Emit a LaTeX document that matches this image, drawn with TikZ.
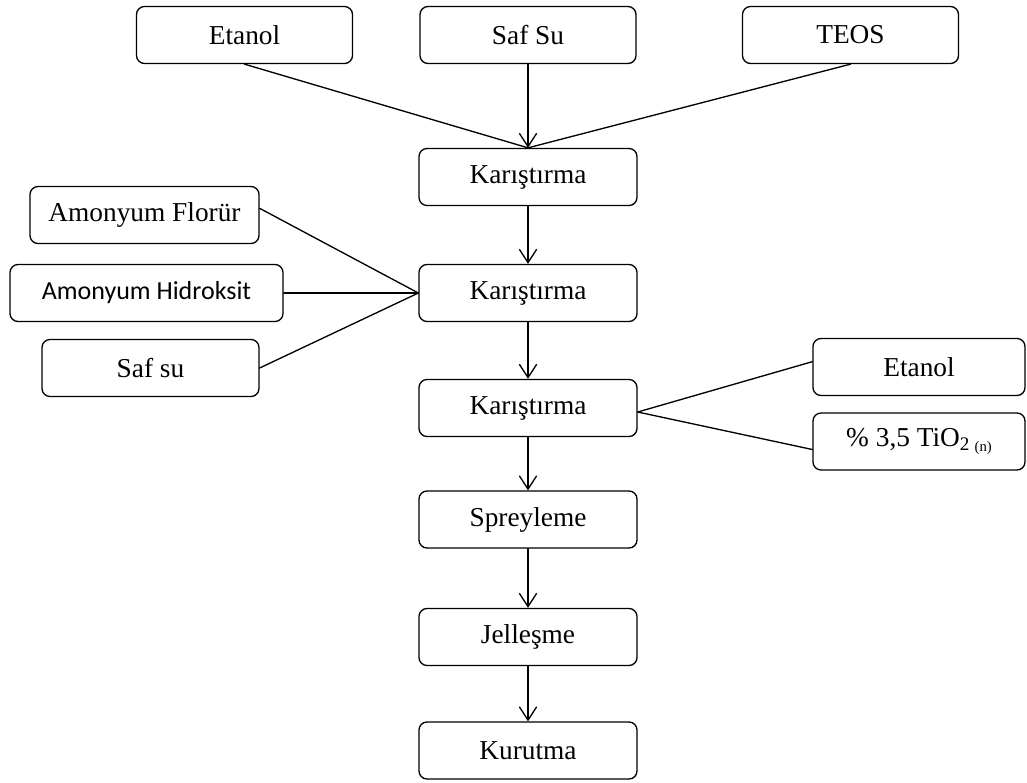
\documentclass[tikz,border=0pt]{standalone}
\usepackage{fontspec}
\setmainfont{Liberation Serif}
\newfontfamily\calfont{Carlito}
\usetikzlibrary{arrows.meta}

\begin{document}
\begin{tikzpicture}[line cap=round,line join=round,>={Straight Barb[length=10pt,width=13pt]},x=0.75pt,y=-0.75pt,
    box/.style={draw,line width=1pt,rounded corners=6pt,minimum height=42.75pt,minimum width=162pt,inner sep=0pt,font=\fontsize{20.5}{23}\selectfont},
    link/.style={line width=1pt}]
                \useasboundingbox (0,0) rectangle (1027,782);
                % inputs on top
                \node[box] (etanolA) at (244.5,35) {Etanol};
                \node[box] (safSu) at (528,35) {Saf Su};
                \node[box] (teos) at (850.5,35) {TEOS};
                % main column
                \node[box,minimum width=163.5pt] (kar1) at (528,177) {Karıştırma};
                \node[box,minimum width=163.5pt] (kar2) at (528,293) {Karıştırma};
                \node[box,minimum width=163.5pt] (kar3) at (528,408) {Karıştırma};
                \node[box,minimum width=163.5pt] (sprey) at (528,519.5) {Spreyleme};
                \node[box,minimum width=163.5pt] (jel) at (528,637) {Jelleşme};
                \node[box,minimum width=163.5pt] (kurut) at (528,750.5) {Kurutma};
                % inputs on the left
                \node[box,minimum width=171.75pt] (amFlor) at (144.5,215) {Amonyum Florür};
                \node[box,minimum width=204.75pt,font=\calfont\fontsize{19.5}{22}\selectfont] (amHid) at (146.5,293) {Amonyum Hidroksit};
                \node[box,minimum width=162.75pt] (safSu2) at (150.5,368) {Saf su};
                % inputs on the right
                \node[box,minimum width=159pt] (etanolB) at (919,367) {Etanol};
                \node[box,minimum width=159pt] (tio) at (919,441.5) {\% 3,5 TiO\textsubscript{2}\,\raisebox{-0.35ex}{\fontsize{11}{12}\selectfont(n)}};
                % connectors
                \draw[link] (etanolA.south) -- (kar1.north);
                \draw[link] (teos.south) -- (kar1.north);
                \draw[link,->] (safSu.south) -- (kar1.north);
                \draw[link,->] (kar1.south) -- (kar2.north);
                \draw[link] ([yshift=5pt]amFlor.east) -- (kar2.west);
                \draw[link] (amHid.east) -- (kar2.west);
                \draw[link] (safSu2.east) -- (kar2.west);
                \draw[link,->] (kar2.south) -- (kar3.north);
                \draw[link] ([yshift=-3pt]kar3.east) -- ([yshift=4pt]etanolB.west);
                \draw[link] ([yshift=-3pt]kar3.east) -- ([yshift=-6pt]tio.west);
                \draw[link,->] (kar3.south) -- (sprey.north);
                \draw[link,->] (sprey.south) -- (jel.north);
                \draw[link,->] (jel.south) -- (kurut.north);
\end{tikzpicture}
\end{document}
